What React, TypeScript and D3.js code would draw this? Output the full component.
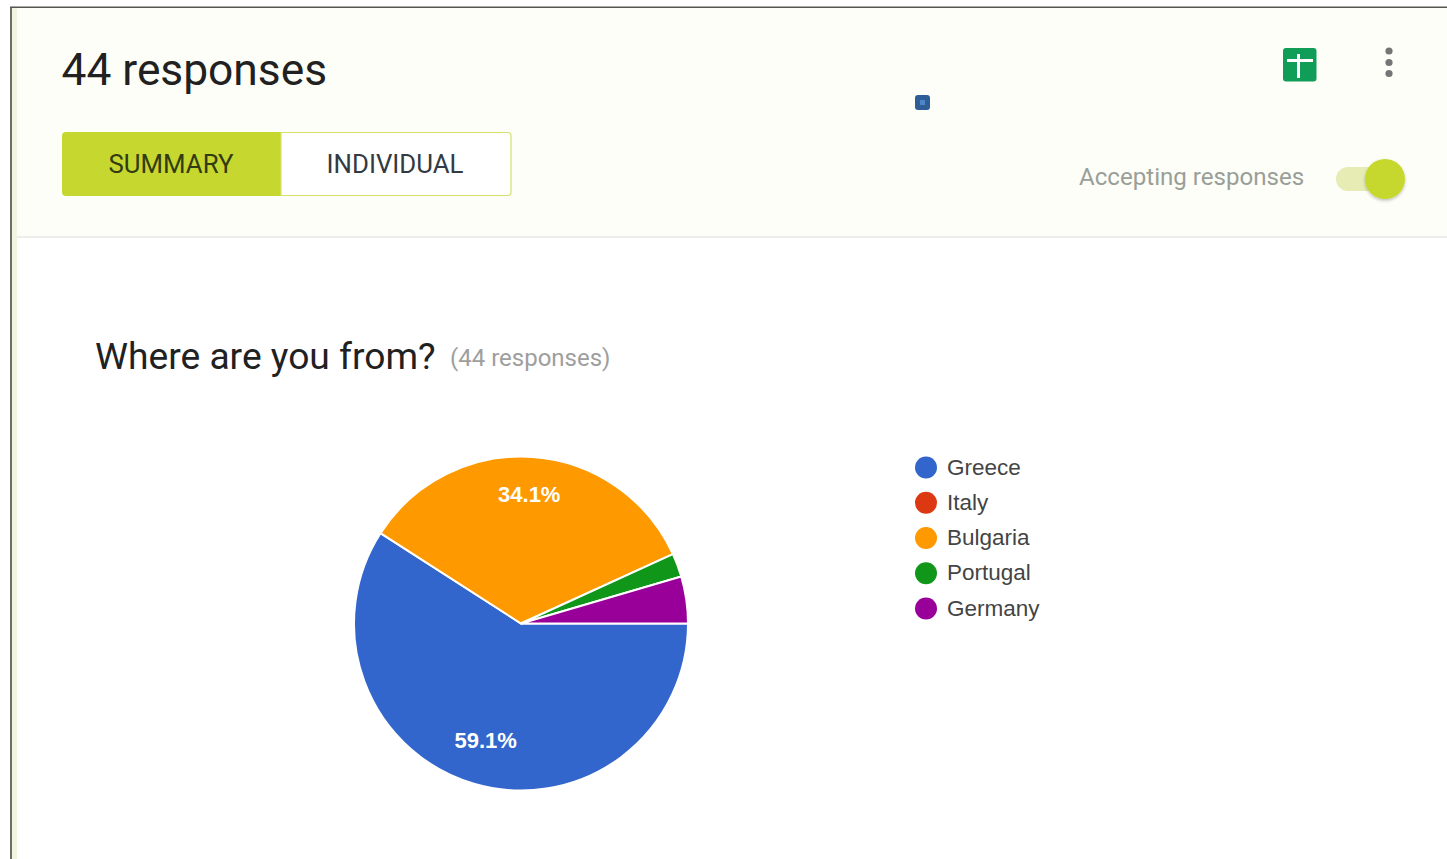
import React from "react";
import * as d3 from "d3";

const countries = ["Greece", "Italy", "Bulgaria", "Portugal", "Germany"];
const responses = [26, 0, 15, 1, 2];
const sliceColors = ["#3366cc", "#dc3912", "#ff9900", "#109618", "#990099"];
const tabLabels = ["SUMMARY", "INDIVIDUAL"];

const FONT = "Roboto, sans-serif";
const CHART_FONT = "Arimo, 'Liberation Sans', sans-serif";
const cx = 521;
const cy = 623.5;
const radius = 167;

const total = d3.sum(responses);
const pieLayout = d3
  .pie<number>()
  .sort(null)
  .startAngle(Math.PI / 2)
  .endAngle(Math.PI / 2 + 2 * Math.PI);
const arcPath = d3.arc<d3.PieArcDatum<number>>().innerRadius(0).outerRadius(radius);
const legendY = d3.scalePoint<string>().domain(countries).range([467.5, 608.5]);
const percent = d3.format(".1%");

// Large slices carry their share inside the slice; the smaller one sits closer to the rim.
const labelPoint = (s: d3.PieArcDatum<number>): [number, number] => {
  const r = s.value / total > 0.5 ? radius * 0.73 : radius * 0.775;
  return d3.arc<d3.PieArcDatum<number>>().innerRadius(r).outerRadius(r).centroid(s);
};

export default function App() {
  const slices = pieLayout(responses);
  return (
    <svg
      width={1447}
      height={859}
      style={{ position: "fixed", left: 0, top: 0, display: "block", background: "#fff" }}
      fontFamily={FONT}
    >
      <defs>
        <filter id="knobShadow" x="-40%" y="-40%" width="180%" height="180%">
          <feDropShadow dx="0" dy="1.5" stdDeviation="1.5" floodColor="#000" floodOpacity="0.25" />
        </filter>
      </defs>

      {/* Card frame and header band */}
      <rect x={17} y={8} width={1430} height={229} fill="#fdfef7" />
      <rect x={12} y={8} width={5} height={851} fill="#f3f5e2" />
      <rect x={10} y={7} width={2} height={852} fill="#6d6f68" />
      <rect x={10} y={6.5} width={1437} height={1.5} fill="#55574f" />
      <rect x={17} y={236.5} width={1430} height={1} fill="#dcdedb" />

      <text x={61.5} y={85} fontSize={44.3} fill="#212121">44 responses</text>

      {/* Summary / individual switch */}
      <path d="M281,132 H66 a4,4 0 0 0 -4,4 V192 a4,4 0 0 0 4,4 H281 Z" fill="#c6d82f" />
      <path d="M281,132.5 H508 a3,3 0 0 1 3,3 V192.5 a3,3 0 0 1 -3,3 H281 Z" fill="#fff" stroke="#d5e06a" strokeWidth={1.2} />
      <text x={171} y={172.5} fontSize={25.8} textAnchor="middle" fill="#333b12">{tabLabels[0]}</text>
      <text x={395} y={172.5} fontSize={25.8} textAnchor="middle" fill="#333a42">{tabLabels[1]}</text>

      {/* Spreadsheet shortcut and overflow menu */}
      <rect x={1283} y={48} width={33.5} height={33.5} rx={3} fill="#0f9d58" />
      <rect x={1287} y={59} width={26} height={3} fill="#fff" />
      <rect x={1297} y={54} width={3} height={24} fill="#fff" />
      <circle cx={1389} cy={51} r={3.6} fill="#757575" />
      <circle cx={1389} cy={62.5} r={3.6} fill="#757575" />
      <circle cx={1389} cy={73.5} r={3.6} fill="#757575" />

      <rect x={915} y={95} width={15} height={15} rx={3} fill="#2f5d96" />
      <rect x={920} y={100} width={5} height={5} fill="#4a86c8" />

      {/* Accepting responses toggle */}
      <text x={1079} y={185} fontSize={24.1} fill="#9a9e98">Accepting responses</text>
      <rect x={1336} y={167} width={62} height={24} rx={12} fill="#e6ecb4" />
      <circle cx={1385} cy={179} r={20} fill="#c6d82f" filter="url(#knobShadow)" />

      {/* Question heading */}
      <text x={95} y={369} fontSize={37.2} fill="#212121">Where are you from?</text>
      <text x={450} y={366} fontSize={24} fill="#9e9e9e">(44 responses)</text>

      {/* Pie slices */}
      <g transform={`translate(${cx},${cy})`}>
        {slices.map((s, i) =>
          s.value > 0 ? (
            <path key={countries[i]} d={arcPath(s) ?? ""} fill={sliceColors[i]} stroke="#fff" strokeWidth={2} />
          ) : null
        )}
        {slices.map((s, i) => {
          if (s.value / total < 0.1) return null;
          const [x, y] = labelPoint(s);
          return (
            <text
              key={countries[i]}
              x={x - 1}
              y={y + 0.5}
              fontSize={22}
              fontWeight={700}
              fill="#fff"
              textAnchor="middle"
              dominantBaseline="central"
              fontFamily={CHART_FONT}
            >
              {percent(s.value / total)}
            </text>
          );
        })}
      </g>

      {/* Legend */}
      {countries.map((name, i) => (
        <g key={name} transform={`translate(0,${legendY(name)})`}>
          <circle cx={926} cy={0} r={11} fill={sliceColors[i]} />
          <text x={947} y={7} fontSize={22.5} fill="#444" fontFamily={CHART_FONT}>{name}</text>
        </g>
      ))}
    </svg>
  );
}
